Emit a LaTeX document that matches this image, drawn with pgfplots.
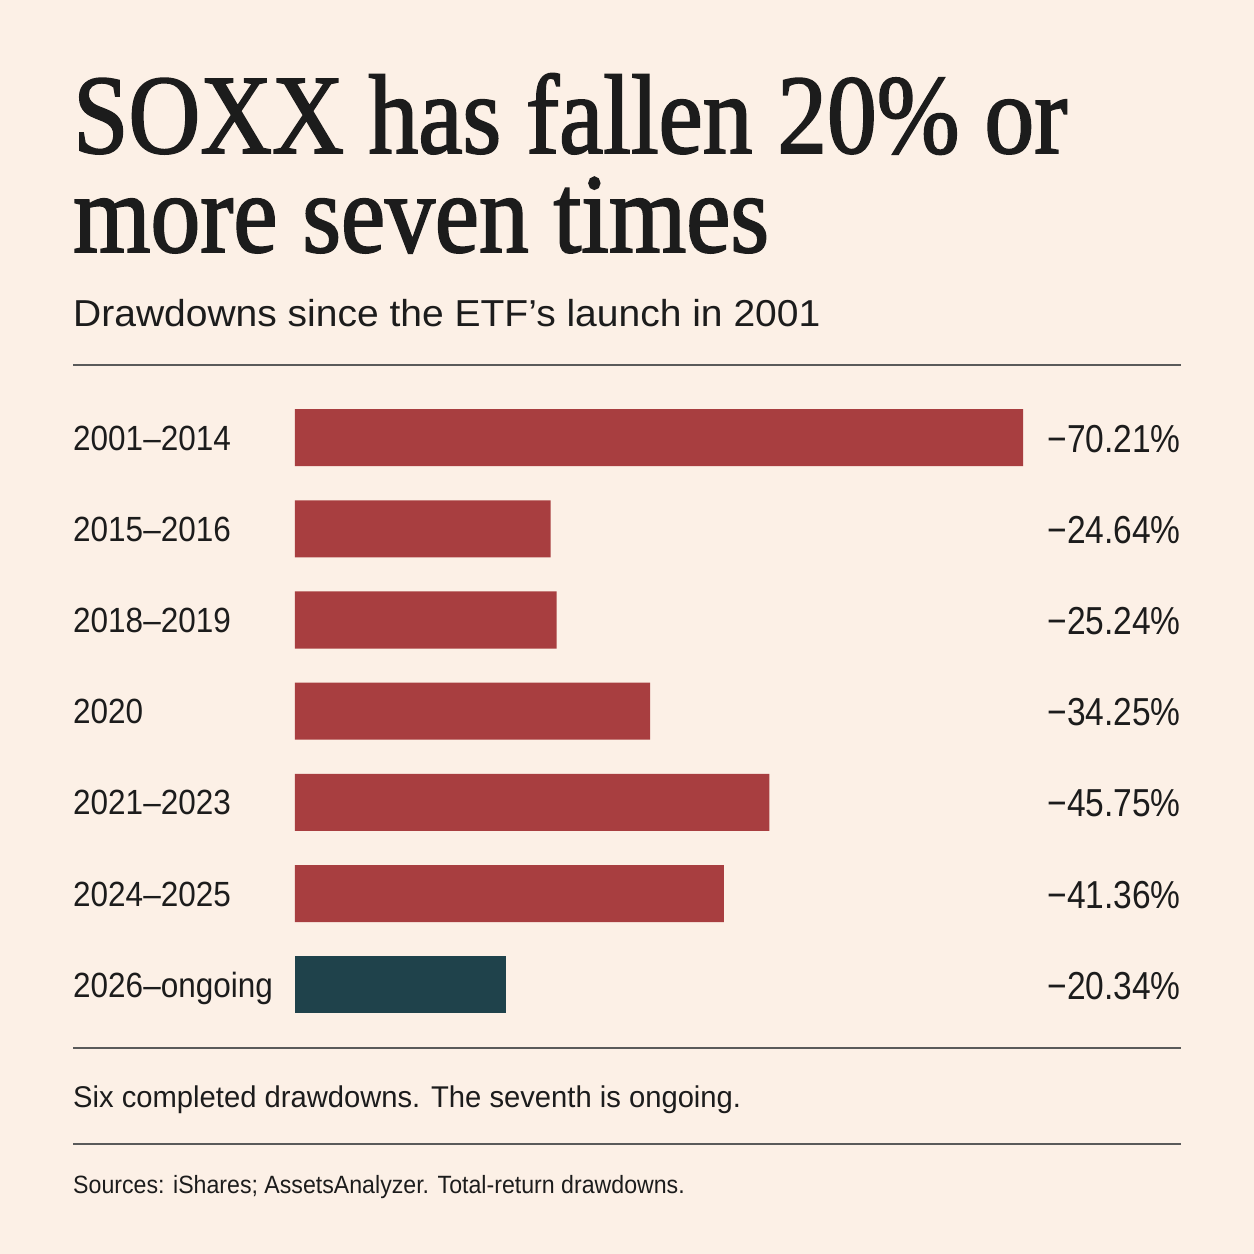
\documentclass[border=0pt]{standalone}
\usepackage{fontspec}
\usepackage{pgfplots}
\pgfplotsset{compat=1.18}
\setmainfont{Liberation Sans}
\newfontfamily\titlefont[FakeStretch=0.88,FakeBold=1.6]{Liberation Serif}
\newfontfamily\subfont[FakeStretch=1.04]{Liberation Sans}
\newfontfamily\condfont[FakeStretch=0.9]{Liberation Sans}
\newfontfamily\valfont[FakeStretch=0.86]{Liberation Sans}
\newfontfamily\footfont[FakeStretch=0.973]{Liberation Sans}
\newfontfamily\srcfont[FakeStretch=0.926]{Liberation Sans}
\definecolor{bg}{HTML}{FCF0E6}
\definecolor{barred}{HTML}{A83E40}
\definecolor{barteal}{HTML}{1F424B}
\definecolor{ink}{HTML}{1C1C1C}
\definecolor{rule}{HTML}{5A5A5A}
\begin{document}
\begin{tikzpicture}[x=1pt,y=1pt]
\fill[bg] (0,0) rectangle (1254,1254);
\useasboundingbox (0,0) rectangle (1254,1254);
% title
\node[anchor=base west, inner sep=0pt, text=ink, align=left, font=\titlefont\fontsize{113}{99}\selectfont] at (73,{1254-252}) {SOXX has fallen 20\% or\\more seven times};
\node[anchor=base west, inner sep=0pt, text=ink, font=\subfont\fontsize{37.5}{37.5}\selectfont] at (73,{1254-327}) {Drawdowns since the ETF’s launch in 2001};
% rules
\draw[rule, line width=1.8pt] (73,{1254-365}) -- (1181,{1254-365});
\draw[rule, line width=1.8pt] (73,{1254-1048}) -- (1181,{1254-1048});
\draw[rule, line width=1.8pt] (73,{1254-1144}) -- (1181,{1254-1144});
% bars
\begin{axis}[
  at={(295pt,{(1254-392)*1pt})}, anchor=north west,
  scale only axis, width=886pt, height=638.4pt,
  xmin=0, xmax=85.44, ymin=-0.5, ymax=6.5, y dir=reverse,
  axis line style={draw=none}, tick style={draw=none}, major tick length=0pt,
  xtick=\empty,
  ytick={0,1,2,3,4,5,6},
  yticklabels={2001–2014,2015–2016,2018–2019,2020,2021–2023,2024–2025,2026–ongoing},
  yticklabel style={anchor=base west, inner sep=0pt, xshift=-222pt, yshift=-12.5pt, text=ink, font=\condfont\fontsize{35}{35}\selectfont},
  clip=false,
]
\addplot[xbar, bar width=57pt, bar shift=0pt, fill=barred, draw=none] coordinates {
  (70.21,0) (24.64,1) (25.24,2) (34.25,3) (45.75,4) (41.36,5)};
\addplot[xbar, bar width=57pt, bar shift=0pt, fill=barteal, draw=none] coordinates {
  (20.34,6)};
\end{axis}
\begin{axis}[
  at={(295pt,{(1254-392)*1pt})}, anchor=north west,
  scale only axis, width=886pt, height=638.4pt,
  xmin=0, xmax=85.44, ymin=-0.5, ymax=6.5, y dir=reverse,
  axis line style={draw=none}, tick style={draw=none}, major tick length=0pt,
  xtick=\empty,
  ytick={0,1,2,3,4,5,6},
  yticklabel pos=right,
  yticklabels={−70.21\%,−24.64\%,−25.24\%,−34.25\%,−45.75\%,−41.36\%,−20.34\%},
  yticklabel style={anchor=base east, inner sep=0pt, yshift=-14.5pt, text=ink, font=\valfont\fontsize{39}{39}\selectfont},
  clip=false,
]
\end{axis}
% notes
\node[anchor=base west, inner sep=0pt, text=ink, font=\footfont\fontsize{30}{30}\selectfont] at (73,{1254-1108}) {Six completed drawdowns. The seventh is ongoing.};
\node[anchor=base west, inner sep=0pt, text=ink, font=\srcfont\fontsize{25}{25}\selectfont] at (73,{1254-1194}) {Sources: iShares; AssetsAnalyzer. Total-return drawdowns.};
\end{tikzpicture}
\end{document}
